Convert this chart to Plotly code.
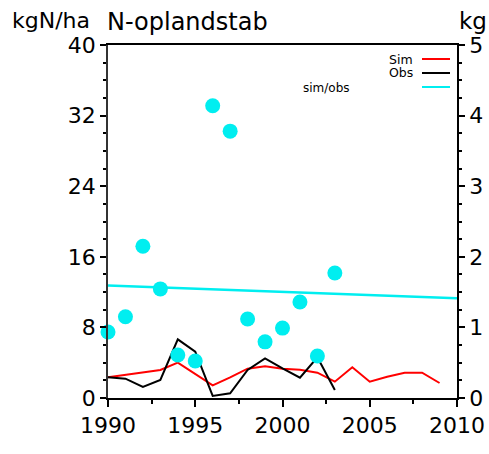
import plotly.graph_objects as go

years = list(range(1990, 2010))
obs_years = list(range(1990, 2004))
sim = [2.34, 2.64, 2.91, 3.17, 4.0, 2.72, 1.44, 2.34, 3.32, 3.59, 3.32, 3.21, 2.87, 1.85,
       3.48, 1.85, 2.41, 2.87, 2.87, 1.7]
obs = [2.34, 2.19, 1.25, 2.04, 6.65, 5.25, 0.23, 0.53, 3.17, 4.49, 3.36, 2.3, 4.61, 0.91]
ratio = [0.935, 1.15, 2.15, 1.545, 0.61, 0.525, 4.14, 3.78, 1.12, 0.795, 0.99, 1.36, 0.595, 1.77]
trend_x = [1990, 2010]
trend_y = [1.592, 1.412]

FONT = "DejaVu Sans"
CYAN = "#00EEF0"

L, R, T, B = 108, 457, 45, 398
W, Hh = 489, 454
PW, PH = R - L, B - T

fig = go.Figure()
fig.add_trace(go.Scatter(x=years, y=sim, mode="lines", line=dict(color="#FF0000", width=2),
                         name="Sim", showlegend=False))
fig.add_trace(go.Scatter(x=obs_years, y=obs, mode="lines", line=dict(color="#000000", width=2),
                         name="Obs", showlegend=False))
fig.add_trace(go.Scatter(x=trend_x, y=trend_y, mode="lines", line=dict(color=CYAN, width=2.5),
                         yaxis="y2", name="sim/obs", showlegend=False))
fig.add_trace(go.Scatter(x=obs_years, y=ratio, mode="markers",
                         marker=dict(color=CYAN, size=15, line=dict(width=0)),
                         yaxis="y2", showlegend=False, cliponaxis=False))

axfont = dict(family=FONT, size=22, color="#000")
fig.update_layout(
    width=W, height=Hh,
    margin=dict(l=L, r=W - R, t=T, b=Hh - B),
    paper_bgcolor="white", plot_bgcolor="white",
    font=dict(family=FONT, color="#000"),
    xaxis=dict(range=[1990, 2010], dtick=5, tick0=1990, showgrid=False, zeroline=False,
               showline=True, linecolor="#000", linewidth=1.5, mirror=True, automargin=False,
               ticks="outside", ticklen=7, tickwidth=1.5, tickcolor="#000",
               tickfont=axfont,
               minor=dict(dtick=2.5, tick0=1990, ticks="outside", ticklen=4, tickcolor="#000", showgrid=False)),
    yaxis=dict(range=[0, 40], dtick=8, showgrid=False, zeroline=False, automargin=False,
               showline=True, linecolor="#333", linewidth=1.5, mirror=True,
               ticks="outside", ticklen=6, tickwidth=1.5, tickcolor="#000",
               tickfont=axfont,
               minor=dict(dtick=2, ticks="outside", ticklen=3, tickcolor="#000", showgrid=False)),
    yaxis2=dict(range=[0, 5], dtick=1, overlaying="y", side="right", showgrid=False, zeroline=False,
                showline=True, linecolor="#000", linewidth=1.5, automargin=False,
                ticks="outside", ticklen=6, tickwidth=1.5, tickcolor="#000",
                tickfont=axfont,
                minor=dict(dtick=0.25, ticks="outside", ticklen=3, tickcolor="#000", showgrid=False)),
)

def px(xp):
    return (xp - L) / PW

def py(yp):
    return 1 - (yp - T) / PH

# titles
fig.add_annotation(text="kgN/ha", xref="paper", yref="paper", x=px(10), y=py(21),
                   xanchor="left", yanchor="middle", showarrow=False, font=dict(family=FONT, size=22))
fig.add_annotation(text="N-oplandstab", xref="paper", yref="paper", x=px(105), y=py(22),
                   xanchor="left", yanchor="middle", showarrow=False, font=dict(family=FONT, size=24))
fig.add_annotation(text="kg", xref="paper", yref="paper", x=px(457), y=py(21),
                   xanchor="left", yanchor="middle", showarrow=False, font=dict(family=FONT, size=23))

# legend
leg = [("Sim", "#FF0000", 59), ("Obs", "#000000", 73), ("", CYAN, 87)]
for label, col, yy in leg:
    fig.add_shape(type="line", xref="paper", yref="paper",
                  x0=px(422), x1=px(450), y0=py(yy), y1=py(yy),
                  line=dict(color=col, width=2))
    if label:
        fig.add_annotation(text=label, xref="paper", yref="paper", x=px(415), y=py(yy),
                           xanchor="right", yanchor="middle", showarrow=False,
                           font=dict(family=FONT, size=12.5))
fig.add_annotation(text="sim/obs", xref="paper", yref="paper", x=px(301),
                   y=py(88), xanchor="left", yanchor="middle", showarrow=False,
                   font=dict(family=FONT, size=12))

fig.write_html("out.html", config={"displayModeBar": False},
               post_script="document.body.style.margin='0';document.body.style.overflow='hidden';")
